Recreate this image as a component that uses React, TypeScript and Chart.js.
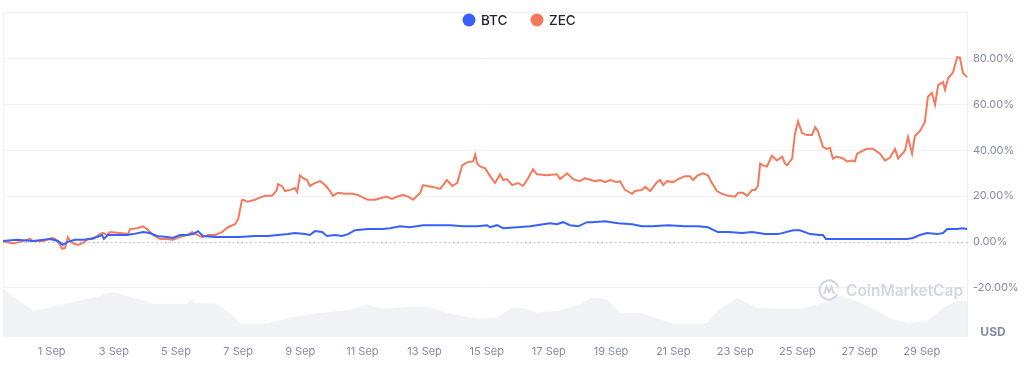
import React, { useEffect, useRef } from 'react';
import { Chart, registerables } from 'chart.js';

Chart.register(...registerables);

// ---- Data (x = day of September, fractional; y = % change) ----
const seriesNames = ['BTC', 'ZEC'];
const seriesColors = ['#3861fb', '#f47a5e'];

const btcPoints: [number, number][] = [
  [-0.57, 0.4], [-0.12, 0.9], [0.4, 0.4], [0.95, 1.3], [1.2, 0.4], [1.36, -1.3], [1.52, 0], [1.75, 0.9],
  [2.01, 0.9], [2.23, 1.3], [2.46, 2.1], [2.62, 3.0], [2.68, 1.3], [2.81, 3.0], [3.1, 3.0], [3.42, 3.0],
  [3.62, 3.4], [3.94, 4.3], [4.16, 3.9], [4.39, 2.6], [4.71, 2.1], [4.9, 1.7], [5.13, 3.0], [5.35, 3.0],
  [5.55, 3.4], [5.71, 4.7], [5.87, 2.6], [6.26, 2.1], [6.67, 2.1], [7.06, 2.1], [7.54, 2.6], [7.96, 2.6],
  [8.28, 3.0], [8.61, 3.4], [8.83, 3.9], [9.15, 3.4], [9.31, 3.0], [9.47, 4.7], [9.7, 4.3], [9.86, 2.6],
  [10.12, 3.0], [10.34, 2.6], [10.54, 3.4], [10.76, 5.1], [11.18, 5.6], [11.63, 5.6], [11.89, 6.0],
  [12.21, 6.8], [12.53, 6.4], [12.95, 7.3], [13.27, 7.3], [13.82, 7.3], [14.24, 6.8], [14.69, 6.8],
  [15.01, 7.3], [15.11, 6.4], [15.33, 7.3], [15.53, 6.0], [15.98, 6.4], [16.4, 6.8], [16.82, 7.7],
  [17.04, 8.1], [17.26, 7.7], [17.46, 8.6], [17.68, 7.3], [17.94, 6.8], [18.23, 8.6], [18.39, 8.6],
  [18.81, 9.0], [19.23, 8.1], [19.68, 7.7], [20.0, 6.8], [20.32, 6.8], [20.84, 7.3], [21.38, 6.8],
  [21.8, 6.8], [22.12, 6.4], [22.44, 4.3], [22.77, 4.3], [23.22, 3.9], [23.54, 4.3], [23.96, 3.4],
  [24.38, 3.4], [24.86, 5.1], [25.08, 5.1], [25.41, 3.4], [25.73, 3.0], [25.82, 3.0], [25.92, 1.3],
  [26.6, 1.3], [27.11, 1.3], [27.66, 1.3], [28.2, 1.3], [28.53, 1.3], [28.72, 1.7], [28.94, 3.0],
  [29.17, 3.9], [29.5, 3.4], [29.69, 3.9], [29.82, 5.6], [30.14, 5.6], [30.3, 6.0], [30.46, 5.6],
];

const zecPoints: [number, number][] = [
  [-0.57, 0.3], [-0.25, -0.7], [-0.02, 0], [0.3, 1.3], [0.4, 0.4], [0.72, 0.4], [1.01, 1.7], [1.11, 1.3],
  [1.27, -1.3], [1.33, -3.0], [1.43, -2.6], [1.52, 2.1], [1.62, 0], [1.75, -0.9], [1.85, -1.3], [2.01, -0.4],
  [2.17, 1.3], [2.33, 1.3], [2.55, 3.4], [2.65, 3.9], [2.78, 3.0], [2.88, 4.3], [3.2, 3.9], [3.46, 3.4],
  [3.52, 5.6], [3.75, 6.0], [3.94, 6.8], [4.07, 5.6], [4.26, 3.0], [4.49, 1.3], [4.71, 1.3], [4.9, 0.9],
  [5.13, 2.1], [5.35, 3.0], [5.52, 4.3], [5.71, 3.0], [5.84, 2.1], [6.03, 3.0], [6.26, 3.0], [6.48, 4.3],
  [6.67, 6.4], [6.9, 7.7], [7.0, 9.8], [7.12, 18.0], [7.16, 18.4], [7.31, 17.5], [7.54, 18.4], [7.7, 19.3],
  [7.86, 20.1], [8.09, 20.1], [8.25, 22.7], [8.28, 25.2], [8.41, 24.4], [8.51, 22.2], [8.67, 22.7],
  [8.83, 23.5], [8.9, 21.8], [8.99, 29.1], [9.09, 27.8], [9.22, 27.0], [9.31, 24.4], [9.47, 25.7],
  [9.64, 26.5], [9.8, 24.8], [9.96, 22.2], [10.05, 20.1], [10.21, 21.4], [10.44, 21.0], [10.67, 21.0],
  [10.86, 20.5], [11.02, 19.3], [11.18, 18.4], [11.41, 18.4], [11.63, 19.3], [11.79, 19.7], [11.95, 18.8],
  [12.11, 19.7], [12.31, 20.5], [12.53, 19.3], [12.63, 18.4], [12.86, 21.4], [12.95, 24.8], [13.08, 24.4],
  [13.27, 24.0], [13.5, 23.1], [13.6, 24.8], [13.72, 27.0], [13.89, 24.4], [14.05, 25.7], [14.21, 33.4],
  [14.37, 34.7], [14.56, 35.1], [14.63, 38.1], [14.69, 34.2], [14.79, 32.9], [14.95, 32.1], [15.11, 28.7],
  [15.27, 25.7], [15.43, 29.5], [15.53, 27.0], [15.65, 27.4], [15.82, 24.8], [16.01, 25.7], [16.17, 24.4],
  [16.33, 27.8], [16.49, 31.7], [16.62, 29.5], [16.94, 29.1], [17.26, 29.5], [17.36, 27.4], [17.59, 29.9],
  [17.78, 27.4], [18.0, 26.5], [18.16, 27.8], [18.49, 26.5], [18.65, 27.0], [18.81, 26.1], [18.97, 27.0],
  [19.19, 26.1], [19.29, 26.5], [19.45, 22.7], [19.68, 21.0], [19.77, 22.2], [20.0, 22.7], [20.1, 24.0],
  [20.26, 22.2], [20.48, 26.1], [20.58, 27.0], [20.68, 24.8], [20.8, 26.5], [21.0, 26.1], [21.16, 27.4],
  [21.38, 28.7], [21.54, 28.7], [21.64, 27.0], [21.8, 29.1], [21.96, 29.9], [22.12, 29.1], [22.25, 25.7],
  [22.41, 22.2], [22.57, 21.0], [22.77, 20.1], [22.99, 19.7], [23.09, 21.4], [23.25, 21.4], [23.38, 20.1],
  [23.54, 22.7], [23.64, 22.7], [23.73, 24.4], [23.8, 34.2], [23.89, 33.4], [24.02, 32.9], [24.18, 37.6],
  [24.34, 35.5], [24.51, 37.2], [24.6, 34.2], [24.67, 33.4], [24.83, 36.4], [24.92, 47.1], [25.02, 52.6],
  [25.15, 47.5], [25.31, 46.6], [25.47, 46.6], [25.57, 50.1], [25.66, 48.3], [25.82, 41.5], [25.95, 40.6],
  [26.05, 41.1], [26.14, 36.4], [26.27, 37.2], [26.47, 36.4], [26.6, 35.1], [26.76, 35.5], [26.85, 35.1],
  [26.92, 38.5], [27.11, 39.8], [27.24, 40.6], [27.43, 40.6], [27.66, 38.5], [27.82, 35.5], [27.98, 36.8],
  [28.14, 40.6], [28.24, 36.4], [28.46, 39.8], [28.56, 45.8], [28.69, 38.5], [28.78, 46.2], [28.94, 48.3],
  [29.1, 52.2], [29.2, 63.3], [29.33, 65.0], [29.43, 59.9], [29.53, 68.4], [29.69, 69.7], [29.75, 66.3],
  [29.85, 71.4], [30.01, 74.0], [30.14, 80.6], [30.23, 80.4], [30.33, 73.6], [30.46, 71.9],
];

// Relative trading volume (arbitrary units, 0-100 scale)
const volumePoints: [number, number][] = [
  [-0.57, 14.8], [0.4, 8.1], [1.59, 10.5], [2.55, 12.6], [2.78, 13.6], [3.1, 13.6], [3.62, 12.0],
  [4.1, 11.1], [4.16, 10.2], [4.71, 10.2], [5.35, 10.2], [5.55, 12.0], [5.58, 10.5], [6.32, 10.2],
  [6.74, 7.2], [7.06, 4.2], [7.93, 4.2], [8.67, 6.0], [9.54, 7.2], [10.6, 8.4], [11.15, 9.9], [11.66, 8.7],
  [12.53, 9.3], [13.08, 9.3], [13.82, 7.2], [14.69, 5.7], [15.33, 6.0], [15.75, 8.7], [16.17, 9.0],
  [16.62, 7.5], [17.26, 8.1], [17.91, 9.6], [18.33, 12.0], [18.87, 11.7], [19.29, 7.5], [20.03, 7.2],
  [20.68, 5.1], [21.0, 4.2], [22.09, 4.2], [22.41, 8.1], [23.06, 12.0], [23.38, 10.5], [23.7, 9.0],
  [24.22, 8.7], [25.08, 8.7], [25.73, 10.2], [26.37, 12.6], [26.92, 11.1], [27.43, 8.7], [27.98, 5.7],
  [28.62, 4.2], [29.17, 5.1], [29.69, 9.0], [30.14, 11.1], [30.46, 11.1],
];

const xTickDays = [1, 3, 5, 7, 9, 11, 13, 15, 17, 19, 21, 23, 25, 27, 29];
const xTickLabels = ['1 Sep', '3 Sep', '5 Sep', '7 Sep', '9 Sep', '11 Sep', '13 Sep', '15 Sep', '17 Sep', '19 Sep', '21 Sep', '23 Sep', '25 Sep', '27 Sep', '29 Sep'];
const yTickValues = [-20, 0, 20, 40, 60, 80, 100];
const xRange = [-0.567, 30.49];
const yRange = [-41.5, 100.5];
const axisUnit = 'USD';
const watermarkText = 'CoinMarketCap';

const FONT = 'Inter, "Noto Sans", sans-serif';
const GREY = '#858ca2';

const decorPlugin = {
  id: 'decor',
  beforeDatasetsDraw(chart: any) {
    const { ctx, chartArea } = chart;
    const y = chart.scales.y.getPixelForValue(0);
    ctx.save();
    ctx.strokeStyle = '#eef0f3';
    ctx.lineWidth = 1;
    ctx.beginPath();
    ctx.moveTo(chartArea.left + 0.5, chartArea.top);
    ctx.lineTo(chartArea.left + 0.5, chartArea.bottom);
    ctx.moveTo(chartArea.right - 0.5, chartArea.top);
    ctx.lineTo(chartArea.right - 0.5, chartArea.bottom);
    ctx.stroke();
    ctx.strokeStyle = '#b4b9c4';
    ctx.setLineDash([1.5, 3]);
    ctx.beginPath();
    ctx.moveTo(chartArea.left, Math.round(y) + 0.5);
    ctx.lineTo(chartArea.right, Math.round(y) + 0.5);
    ctx.stroke();
    ctx.restore();
  },
  afterDatasetsDraw(chart: any) {
    const { ctx } = chart;
    ctx.save();
    const cx = 829, cy = 290;
    ctx.strokeStyle = '#d2d8e3';
    ctx.lineWidth = 2.2;
    ctx.beginPath();
    ctx.arc(cx, cy, 9.5, 0.15 * Math.PI, 1.9 * Math.PI);
    ctx.stroke();
    ctx.beginPath();
    ctx.moveTo(cx - 5, cy + 4);
    ctx.lineTo(cx - 2.5, cy - 3);
    ctx.lineTo(cx, cy + 2);
    ctx.lineTo(cx + 2.5, cy - 3);
    ctx.lineTo(cx + 5, cy + 4);
    ctx.stroke();
    ctx.fillStyle = '#d2d8e3';
    ctx.font = `600 15.5px ${FONT}`;
    ctx.textBaseline = 'middle';
    ctx.textAlign = 'left';
    ctx.fillText(watermarkText, 846, cy + 1);
    ctx.restore();
  },
  afterDraw(chart: any) {
    const { ctx } = chart;
    ctx.save();
    ctx.font = `500 13.5px ${FONT}`;
    ctx.textBaseline = 'middle';
    ctx.textAlign = 'left';
    const cy = 20;
    const items = [{ x: 469 }, { x: 537 }];
    items.forEach((it, i) => {
      ctx.fillStyle = seriesColors[i];
      ctx.beginPath();
      ctx.arc(it.x, cy, 6.5, 0, Math.PI * 2);
      ctx.fill();
      ctx.fillStyle = '#222531';
      ctx.fillText(seriesNames[i], it.x + 12, cy + 1);
    });
    ctx.fillStyle = GREY;
    ctx.font = `700 12px ${FONT}`;
    ctx.textAlign = 'center';
    ctx.fillText(axisUnit, 993, 332);
    ctx.restore();
  },
};

export default function App() {
  const ref = useRef<HTMLCanvasElement | null>(null);

  useEffect(() => {
    document.body.style.margin = '0';
    const canvas = ref.current;
    if (!canvas) return;
    const toXY = (arr: [number, number][]) => arr.map(([x, y]) => ({ x, y }));
    const chart = new Chart(canvas, {
      type: 'line',
      data: {
        datasets: [
          {
            label: seriesNames[0],
            data: toXY(btcPoints),
            borderColor: seriesColors[0],
            borderWidth: 2,
            pointRadius: 0,
            tension: 0,
            order: 0,
            yAxisID: 'y',
          },
          {
            label: seriesNames[1],
            data: toXY(zecPoints),
            borderColor: seriesColors[1],
            borderWidth: 2,
            pointRadius: 0,
            tension: 0,
            order: 1,
            yAxisID: 'y',
          },
          {
            label: 'Volume',
            data: toXY(volumePoints),
            borderWidth: 0,
            borderColor: 'rgba(0,0,0,0)',
            backgroundColor: '#f2f3f7',
            fill: 'start',
            pointRadius: 0,
            tension: 0,
            order: 10,
            yAxisID: 'yVol',
          },
        ],
      },
      options: {
        animation: false,
        responsive: false,
        layout: { padding: { left: 3, top: 5, right: 0, bottom: 0 } },
        plugins: { legend: { display: false }, tooltip: { enabled: false } },
        scales: {
          x: {
            type: 'linear',
            min: xRange[0],
            max: xRange[1],
            grid: { display: false, drawTicks: false },
            border: { display: false },
            afterBuildTicks: (scale: any) => {
              scale.ticks = xTickDays.map((v) => ({ value: v }));
            },
            afterFit: (scale: any) => {
              scale.height = 30;
            },
            ticks: {
              autoSkip: false,
              maxRotation: 0,
              padding: 8,
              color: GREY,
              font: { family: FONT, size: 11 },
              callback: (v: any) => {
                const i = xTickDays.indexOf(Number(v));
                return i >= 0 ? xTickLabels[i] : '';
              },
            },
          },
          y: {
            type: 'linear',
            position: 'right',
            min: yRange[0],
            max: yRange[1],
            afterBuildTicks: (scale: any) => {
              scale.ticks = yTickValues.map((v) => ({ value: v }));
            },
            afterFit: (scale: any) => {
              scale.width = 56;
            },
            grid: {
              drawTicks: false,
              color: (c: any) => (c.tick && c.tick.value === 0 ? 'rgba(0,0,0,0)' : '#eef0f3'),
            },
            border: { display: false },
            ticks: {
              padding: 5,
              color: GREY,
              font: { family: FONT, size: 11 },
              callback: (v: any) => (Number(v) === 100 ? '' : Number(v).toFixed(2) + '%'),
            },
          },
          yVol: {
            type: 'linear',
            display: false,
            min: 0,
            max: 100,
          },
        },
      },
      plugins: [decorPlugin],
    } as any);
    return () => chart.destroy();
  }, []);

  return (
    <div style={{ width: 1024, height: 367, background: '#fff' }}>
      <canvas ref={ref} width={1024} height={367} />
    </div>
  );
}
